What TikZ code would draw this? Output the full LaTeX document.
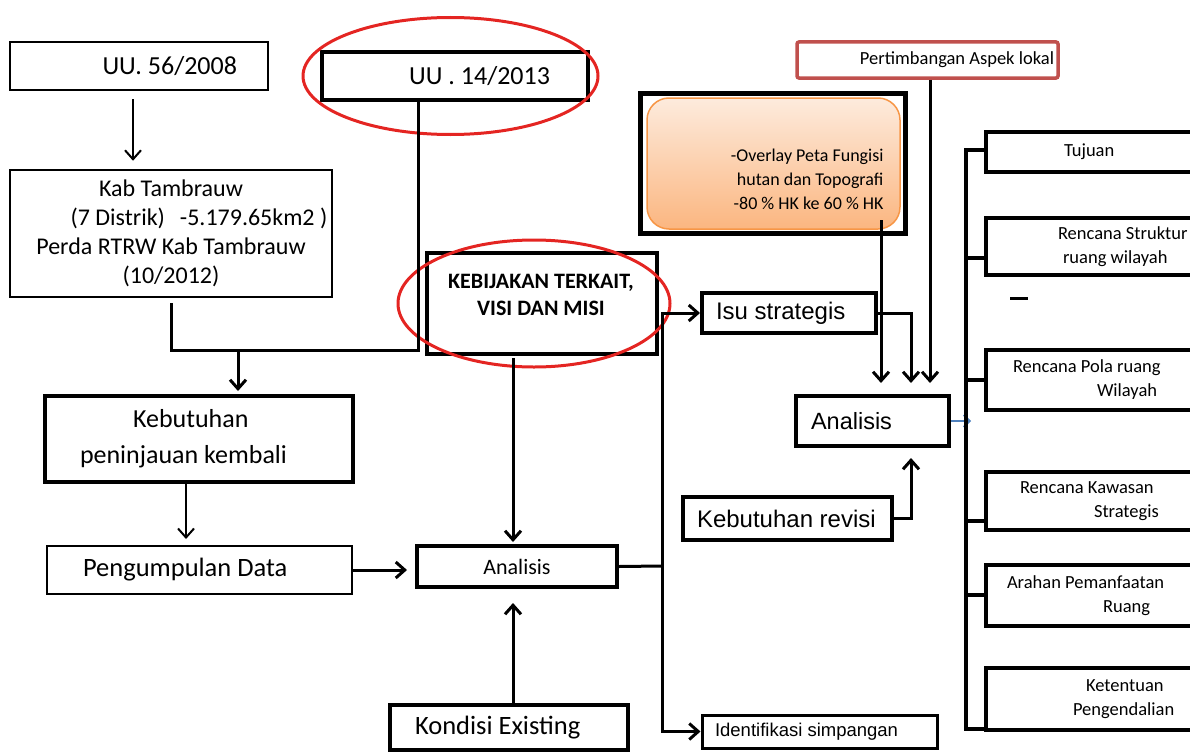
\documentclass[tikz,border=0pt]{standalone}
\usepackage{fontspec}
\setmainfont{Carlito}
\newfontfamily\arial{Liberation Sans}
\usepackage{tikz}
\usetikzlibrary{arrows.meta}
\definecolor{ringred}{HTML}{E42522}
\definecolor{lokalred}{HTML}{C0504D}
\definecolor{peachtop}{HTML}{FDEBDD}
\definecolor{peachbot}{HTML}{FBB680}
\definecolor{orangeline}{HTML}{F79646}
\definecolor{arrowblue}{HTML}{4F81BD}
\tikzset{>/.tip={Straight Barb[length=9pt, width=16pt]}}
\newcommand{\fs}[2]{\fontsize{#1}{#2}\selectfont}
\frenchspacing

\begin{document}
\begin{tikzpicture}[x=1pt, y=-1pt,
  box/.style={draw, line width=2pt, inner sep=0pt},
  heavy/.style={box, line width=4pt},
  conn/.style={line width=3pt},
  rail/.style={line width=4pt},
  ring/.style={draw=ringred, line width=3pt},
  rbox/.style={heavy, minimum width=320pt, align=flush left, font=\fs{18.5}{24}}]
 \useasboundingbox (0,0) rectangle (1190,752);
 \clip (0,0) rectangle (1190,752);

 % left column
 \node[box, minimum height=48pt, text width=196pt, inner xsep=31pt, align=flush right, font=\fs{26}{30}] (uu56) at (139,66) {UU. 56/2008};
 \node[box, line width=2.5pt, minimum width=322pt, minimum height=127pt, align=center, font=\fs{24}{29}] (kab) at (171,233.5)
   {Kab Tambrauw\\\hspace*{56pt}(7 Distrik)\hspace{15pt}-5.179.65km2 )\\Perda RTRW Kab Tambrauw\\(10/2012)};
 \node[heavy, minimum height=86pt, text width=238pt, inner xsep=35pt, align=flush left, font=\fs{26}{36}] (kebutuhan) at (199,439)
   {\hspace*{53pt}Kebutuhan\\peninjauan kembali};
 \node[box, minimum height=48pt, text width=233pt, inner xsep=36pt, align=flush left, font=\fs{26.5}{30}] (pengumpulan) at (199.5,570) {Pengumpulan Data};

 % middle column
 \node[box, line width=3.5pt, minimum height=48pt, text width=190pt, inner xsep=38pt, align=flush right, font=\fs{26}{30}] (uu14) at (455,76) {UU . 14/2013};
 \node[heavy, minimum width=230pt, minimum height=101pt] (kebijakan) at (542,303.5) {};
 \node[align=center, font=\bfseries\fs{22}{27}] (kebijakan-t) at (541,294.5) {KEBIJAKAN TERKAIT,\\VISI DAN MISI};
 \node[heavy, minimum width=200pt, minimum height=41pt, font=\fs{22}{25}] (analisis1) at (517,566.5) {Analisis};
 \node[heavy, minimum height=45pt, text width=188pt, inner xsep=25pt, align=flush left, font=\fs{26.5}{30}] (kondisi) at (509,727.5) {Kondisi Existing};

 \draw[ring] ([xshift=-4.5pt]uu14.center) ellipse [x radius=147.5pt, y radius=58.5pt];
 \draw[ring] ([xshift=-8pt]kebijakan.center) ellipse [x radius=136pt, y radius=63.5pt];

 % overlay and second analysis
 \node[draw, line width=5pt, minimum width=265pt, minimum height=140pt] (petaframe) at (772.5,163) {};
 \node[draw=orangeline, line width=1.5pt, rounded corners=22pt, top color=peachtop, bottom color=peachbot,
   minimum width=253pt, minimum height=131pt] (peta) at (773.5,163.5) {};
 \node[anchor=east, align=flush right, font=\fs{18}{24}] (overlay) at (887,179)
   {-Overlay Peta Fungisi\\hutan dan Topografi\\-80 \% HK ke 60 \% HK};
 \node[box, draw=lokalred, line width=3.5pt, rounded corners=2pt, minimum height=36pt, text width=253pt, inner xsep=4pt,
   align=flush right, font=\fs{18.5}{22}] (lokal) at (927.5,60) {Pertimbangan Aspek lokal};
 \node[heavy, minimum height=40pt, text width=146pt, inner xsep=14pt, align=flush left, font=\arial\fs{24}{28}] (isu) at (789,313) {Isu strategis};
 \node[heavy, minimum height=50pt, text width=123pt, inner xsep=15pt, align=flush left, font=\arial\fs{23.5}{28}] (analisis2) at (872.5,421) {Analisis};
 \node[heavy, minimum height=43pt, text width=181pt, inner xsep=14pt, align=flush left, font=\arial\fs{24}{28}] (revisi) at (787.5,518.5) {Kebutuhan revisi};
 \node[box, line width=3pt, minimum height=33pt, text width=209pt, inner xsep=13pt, align=flush left, font=\arial\fs{18.5}{22}] (identifikasi) at (819.5,731.5) {Identifikasi simpangan};
 \coordinate (petaout) at (881,220);

 % right column
 \node[rbox, minimum height=40pt, text width=164pt, inner xsep=78pt] (tujuan) at (1146,152) {Tujuan};
 \node[rbox, minimum height=57pt, text width=176pt, inner xsep=72pt] (struktur) at (1146,246.5) {Rencana Struktur\\\hspace*{5pt}ruang wilayah};
 \node[rbox, minimum height=60pt, text width=266pt, inner xsep=27pt] (pola) at (1146,380) {Rencana Pola ruang\\\hspace*{84pt}Wilayah};
 \node[rbox, minimum height=58pt, text width=252pt, inner xsep=34pt] (kawasan) at (1146,501) {Rencana Kawasan\\\hspace*{74pt}Strategis};
 \node[rbox, minimum height=61pt, text width=278pt, inner xsep=21pt] (arahan) at (1146,595.5) {Arahan Pemanfaatan\\\hspace*{96pt}Ruang};
 \node[rbox, minimum height=62pt, text width=146pt, inner xsep=87pt] (ketentuan) at (1146,699) {\hspace*{13pt}Ketentuan\\Pengendalian};

 % connectors
 \draw[->, line width=2pt, shorten <=8pt, shorten >=8pt] ([xshift=-6pt]uu56.south) -- ([xshift=-6pt]uu56.south |- kab.north);
 \coordinate (merge) at (238,350);
 \draw[conn] ([yshift=-5pt]kab.south) |- (merge) -| ([xshift=-37pt]uu14.south);
 \draw[->, conn, shorten >=3pt] (merge) -- (merge |- kebutuhan.north);
 \draw[->, line width=2pt, shorten >=6pt] ([xshift=-13pt]kebutuhan.south) -- ([xshift=-13pt]kebutuhan.south |- pengumpulan.north);
 \draw[->, conn, shorten >=8pt] (pengumpulan.east) -- (pengumpulan.east -| analisis1.west);
 \draw[->, conn, shorten <=2pt, shorten >=2pt] ([xshift=-4pt]analisis1.north |- kebijakan.south) -- ([xshift=-4pt]analisis1.north);
 \draw[->, conn, shorten >=14pt] ([xshift=-4pt]analisis1.south |- kondisi.north) -- ([xshift=-4pt]analisis1.south);

 \coordinate (fork) at (662,566);
 \draw[conn] (analisis1.east) -- (fork);
 \draw[->, conn] (fork) |- (isu.west);
 \draw[->, conn] (fork) |- (identifikasi.west);

 \draw[->, conn] (petaout) -- ([xshift=8.5pt, yshift=11pt]analisis2.north);
 \draw[->, conn] (isu.east) -| ([xshift=38.5pt, yshift=11pt]analisis2.north);
 \draw[->, conn] ([xshift=2.5pt]lokal.south) -- ([xshift=57.5pt, yshift=11pt]analisis2.north);
 \draw[->, conn] (revisi.east) -| ([xshift=38.5pt, yshift=-10pt]analisis2.south);
 \draw[-{Straight Barb[length=6pt, width=12pt]}, draw=arrowblue, line width=1.8pt] (analisis2.east) -- ++(20,0);

 \draw[rail] ([yshift=2pt]tujuan.west) -- ++(-18,0) |- ([yshift=3pt]ketentuan.south west);
 \foreach \b/\dy in {struktur/-11.5, pola/0, kawasan/-20, arahan/1}
   \draw[rail] ([yshift=\dy pt]\b.west) -- ++(-18,0);
 \draw[line width=3pt] ([xshift=26pt, yshift=-21pt]struktur.south west) -- ++(18,0);
\end{tikzpicture}
\end{document}
